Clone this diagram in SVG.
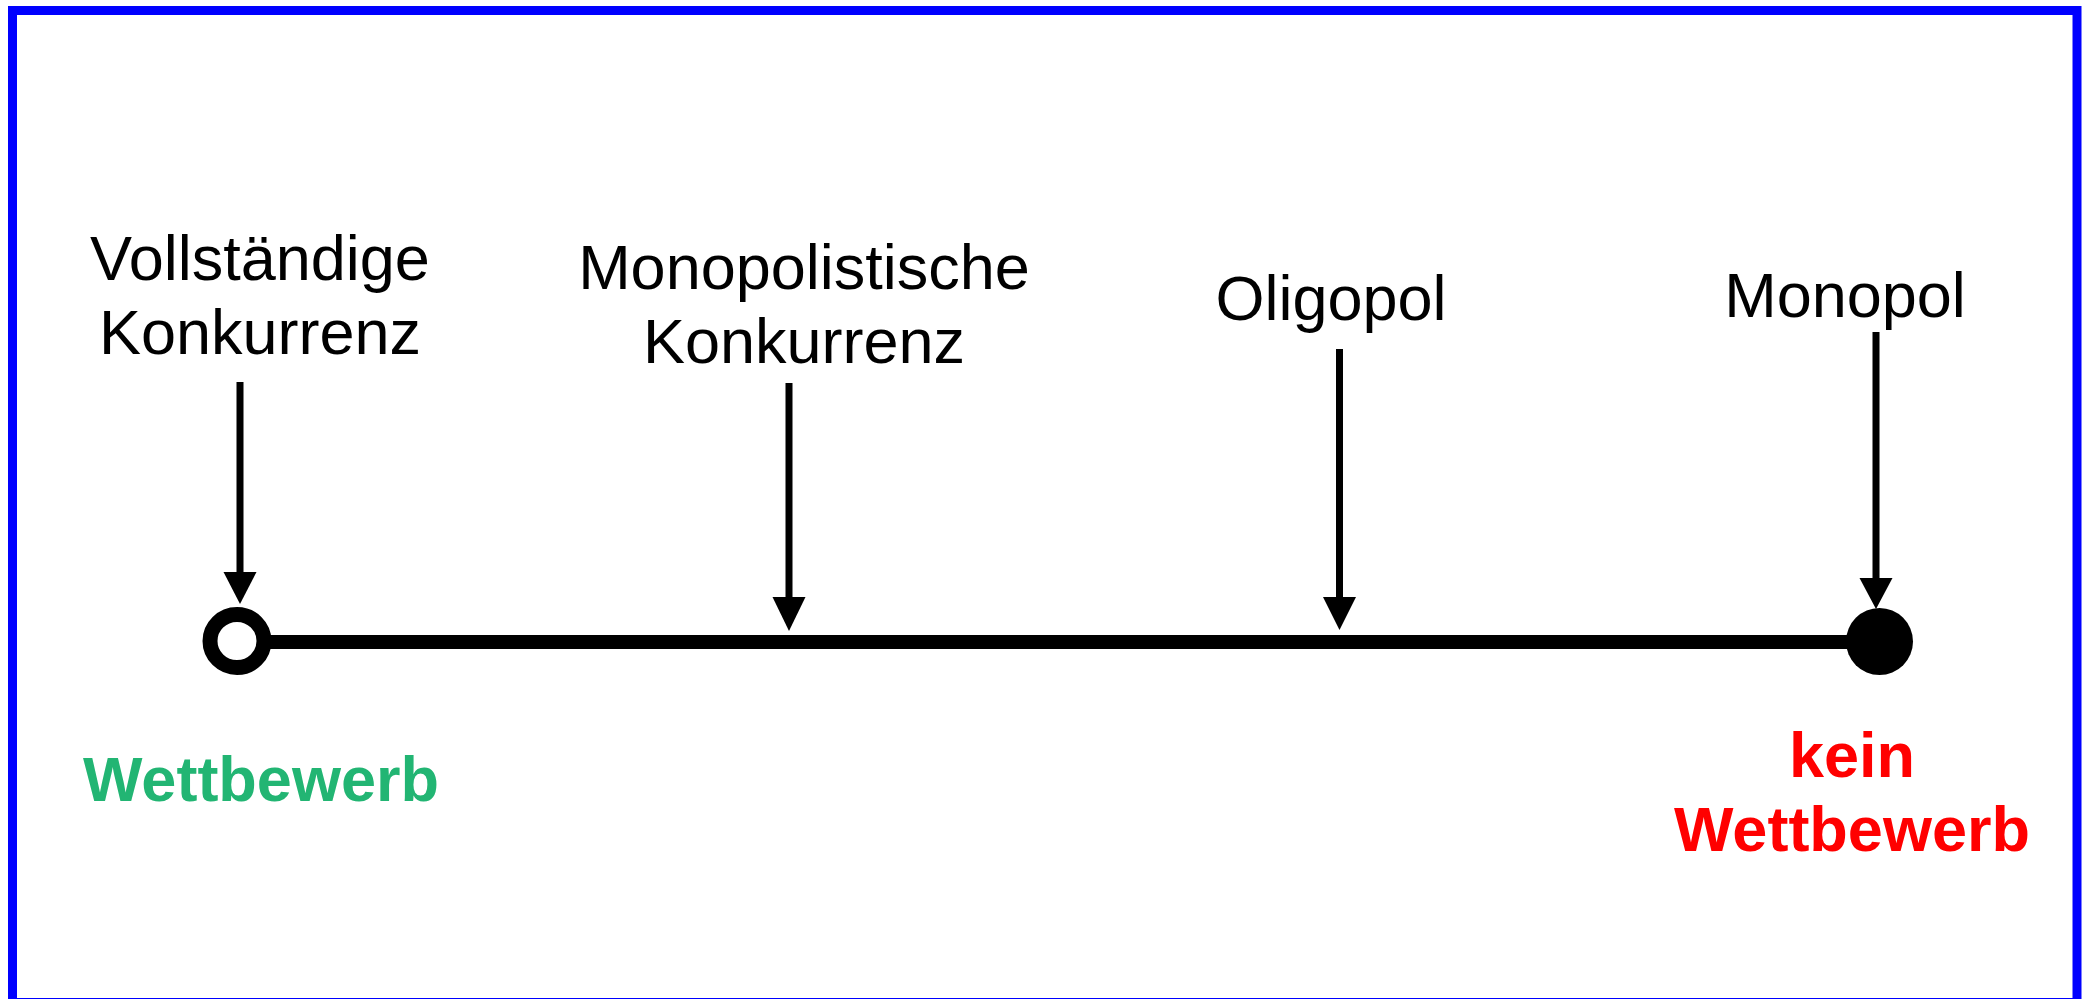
<svg xmlns="http://www.w3.org/2000/svg" width="2090" height="999" viewBox="0 0 2090 999">
<style>
.lbl{font-family:"Liberation Sans",Arial,sans-serif;font-size:63px;fill:#000;text-anchor:middle}
.bold{font-family:"Liberation Sans",Arial,sans-serif;font-size:63px;font-weight:bold;text-anchor:middle}
.shaft{stroke:#000;stroke-width:7;fill:none}
.head{fill:#000}
</style>
<rect x="0" y="0" width="2090" height="999" fill="#fff"/>
<rect x="12.5" y="10.5" width="2064.5" height="992" fill="none" stroke="#0000ff" stroke-width="9"/>
<g id="axis">
<line x1="268" y1="642" x2="1850" y2="642" stroke="#000" stroke-width="14"/>
</g>
<g id="node-start">
<ellipse cx="237" cy="641" rx="27" ry="26.5" fill="none" stroke="#000" stroke-width="15"/>
</g>
<g id="node-end">
<circle cx="1879.5" cy="641.5" r="33.5" fill="#000"/>
</g>
<g id="label-vollstaendig">
<text class="lbl" x="260" y="280">Vollständige</text>
<text class="lbl" x="260" y="354">Konkurrenz</text>
</g>
<g id="label-monopolistisch">
<text class="lbl" x="804" y="289">Monopolistische</text>
<text class="lbl" x="804" y="363">Konkurrenz</text>
</g>
<g id="label-oligopol">
<text class="lbl" x="1331" y="320">Oligopol</text>
</g>
<g id="label-monopol">
<text class="lbl" x="1845" y="317">Monopol</text>
</g>
<g id="label-wettbewerb">
<text class="bold" x="261" y="801" fill="#22b573">Wettbewerb</text>
</g>
<g id="label-kein-wettbewerb">
<text class="bold" x="1852" y="777" fill="#ff0000">kein</text>
<text class="bold" x="1852" y="851" fill="#ff0000">Wettbewerb</text>
</g>
<g id="connectors">
<line class="shaft" x1="240" y1="382" x2="240" y2="574"/>
<polygon class="head" points="223.5,572 256.5,572 240,604"/>
<line class="shaft" x1="789" y1="383" x2="789" y2="599"/>
<polygon class="head" points="772.5,597 805.5,597 789,631"/>
<line class="shaft" x1="1339.5" y1="349" x2="1339.5" y2="599"/>
<polygon class="head" points="1323,597 1356,597 1339.5,630"/>
<line class="shaft" x1="1876" y1="332" x2="1876" y2="580"/>
<polygon class="head" points="1859.5,578 1892.5,578 1876,609"/>
</g>
</svg>
